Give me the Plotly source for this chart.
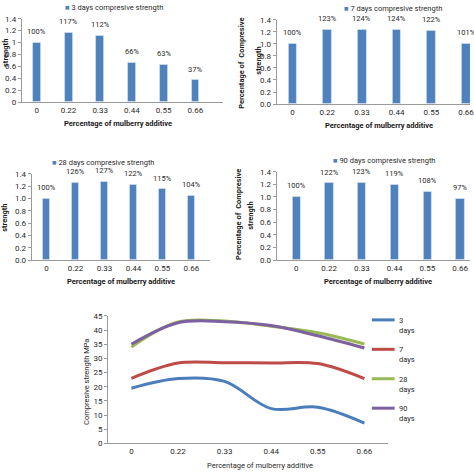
import plotly.graph_objects as go

categories = ["0", "0.22", "0.33", "0.44", "0.55", "0.66"]
ratio_3d = [1.00, 1.17, 1.12, 0.66, 0.63, 0.37]
ratio_7d = [1.00, 1.23, 1.24, 1.24, 1.22, 1.01]
ratio_28d = [1.00, 1.26, 1.27, 1.22, 1.15, 1.04]
ratio_90d = [1.00, 1.22, 1.23, 1.19, 1.08, 0.97]
labels_3d = ["100%", "117%", "112%", "66%", "63%", "37%"]
labels_7d = ["100%", "123%", "124%", "124%", "122%", "101%"]
labels_28d = ["100%", "126%", "127%", "122%", "115%", "104%"]
labels_90d = ["100%", "122%", "123%", "119%", "108%", "97%"]

mpa_3d = [19.5, 22.9, 21.9, 12.3, 12.8, 7.2]
mpa_7d = [23.0, 28.4, 28.5, 28.4, 28.2, 22.9]
mpa_28d = [34.0, 42.9, 43.2, 41.4, 39.1, 35.1]
mpa_90d = [35.0, 42.6, 43.0, 41.6, 38.0, 33.7]
line_names = ["3 days", "7 days", "28 days", "90 days"]

W = H = 474
FONT = "Roboto"
BAR = "#4F81BD"
AX = "#9a9a9a"
LINE_COLORS = ["#4A7EBB", "#BE4B48", "#98B954", "#7D60A0"]
TXT = "#2a2a2a"


def px(x):
    return x / W


def py(y):
    return 1 - y / H


def ann(x, y, text, angle=0, xanchor="center", yanchor="middle", size=7.5,
        color=TXT, align="center"):
    return dict(x=px(x), y=py(y), xref="paper", yref="paper", text=text,
                textangle=angle, showarrow=False, xanchor=xanchor,
                yanchor=yanchor, align=align, font=dict(size=size, color=color))


idx = list(range(6))
fig = go.Figure()

panels = [
    # values, labels, legend text, x domain px, y px (top,bottom), x range, tick format, legend x, title x
    (ratio_3d, labels_3d, "3 days compresive strength", (22, 225), (15, 100), (-0.47, 5.875), None, 115, 119),
    (ratio_7d, labels_7d, "7 days compresive strength", (279, 474), (16, 102), (-0.457, 5.114), ".1f", 396, 382),
    (ratio_28d, labels_28d, "28 days compresive strength", (32, 212), (173, 261), (-0.51, 5.65), ".1f", 104, 122),
    (ratio_90d, labels_90d, "90 days compresive strength", (279, 474), (171, 261), (-0.6, 5.3), ".1f", 388, 381),
]

annotations = []
for k, (vals, labs, leg, xd, yd, xr, tf, legx, titx) in enumerate(panels):
    n = k + 1
    xa = "x" if n == 1 else f"x{n}"
    ya = "y" if n == 1 else f"y{n}"
    fig.add_trace(go.Bar(x=idx, y=vals, marker_color=BAR, width=0.25,
                         xaxis=xa, yaxis=ya, showlegend=False))
    xkey = "xaxis" if n == 1 else f"xaxis{n}"
    ykey = "yaxis" if n == 1 else f"yaxis{n}"
    fig.layout[xkey] = dict(domain=[px(xd[0]), px(xd[1])], range=list(xr),
                            tickvals=idx, ticktext=categories, showline=True,
                            linecolor=AX, linewidth=1, ticks="", showgrid=False,
                            zeroline=False, anchor=ya, fixedrange=True,
                            ticklabeloverflow="allow",
                            tickfont=dict(size=8, color=TXT))
    ydict = dict(domain=[py(yd[1]), py(yd[0])], range=[0, 1.4], dtick=0.2,
                 showline=True, linecolor=AX, linewidth=1, ticks="outside",
                 ticklen=3, tickcolor=AX, showgrid=False, zeroline=False,
                 anchor=xa, tickfont=dict(size=8, color=TXT))
    if tf:
        ydict["tickformat"] = tf
    fig.layout[ykey] = ydict
    for i, (v, t) in enumerate(zip(vals, labs)):
        annotations.append(dict(x=i, y=v, xref=xa, yref=ya, text=t, showarrow=False,
                                xanchor="center", yanchor="middle",
                                yshift=11, font=dict(size=7.5, color=TXT)))
    annotations.append(ann(legx, yd[0] - 11,
                           f"<span style='color:{BAR}'>■</span> {leg}"))
    annotations.append(ann(titx, yd[1] + 22, "<b>Percentage of mulberry additive</b>",
                           color="#1a1a1a"))

# y titles (partially cut off as in the original)
annotations += [
    ann(5, 50, "<b>strength</b>", angle=-90, color="#1a1a1a"),
    ann(244, 60, "<b>Percentage of  Compresive</b>", angle=-90, color="#1a1a1a"),
    ann(261, 58, "<b>strength</b>", angle=-90, color="#1a1a1a"),
    ann(5, 218, "<b>strength</b>", angle=-90, color="#1a1a1a"),
    ann(241, 214, "<b>Percentage of  Compresive</b>", angle=-90, color="#1a1a1a"),
    ann(253, 216, "<b>strength</b>", angle=-90, color="#1a1a1a"),
]

# bottom line chart
for name, vals, col in zip(line_names, [mpa_3d, mpa_7d, mpa_28d, mpa_90d], LINE_COLORS):
    fig.add_trace(go.Scatter(x=idx, y=vals, mode="lines", name=name,
                             line=dict(color=col, width=3, shape="spline", smoothing=1.0),
                             xaxis="x5", yaxis="y5", showlegend=False))

fig.layout["xaxis5"] = dict(domain=[px(109), px(391)], range=[-0.5, 5.5],
                            tickvals=idx, ticktext=categories, showline=True,
                            linecolor=AX, linewidth=1, ticks="", showgrid=False,
                            zeroline=False, anchor="y5",
                            tickfont=dict(size=8, color=TXT))
fig.layout["yaxis5"] = dict(domain=[py(448), py(318)], range=[0, 45], dtick=5,
                            showline=True, linecolor=AX, linewidth=1, ticks="outside",
                            ticklen=3, tickcolor=AX, showgrid=False, zeroline=False,
                            anchor="x5", tickfont=dict(size=8, color=TXT))
annotations += [
    ann(262, 470, "Percentage of mulberry additive"),
    ann(87, 385, "Compresive strength MPa", angle=-90),
]

shapes = []
leg_y = [322, 352, 382, 412]
for name, col, ly in zip(line_names, LINE_COLORS, leg_y):
    shapes.append(dict(type="line", xref="paper", yref="paper", x0=px(375), x1=px(398),
                       y0=py(ly), y1=py(ly), line=dict(color=col, width=3)))
    num, word = name.split(" ")
    annotations.append(ann(400, ly - 6, f"{num}<br>{word}", xanchor="left",
                           yanchor="top", align="left"))

fig.update_layout(width=W, height=H, margin=dict(l=0, r=0, t=0, b=0),
                  paper_bgcolor="white", plot_bgcolor="white",
                  font=dict(family=FONT, size=8, color=TXT),
                  annotations=annotations, shapes=shapes, showlegend=False,
                  bargap=0)

fig.write_html("out.html", config={"displayModeBar": False},
               post_script="document.body.style.margin='0';document.body.style.overflow='hidden';")
